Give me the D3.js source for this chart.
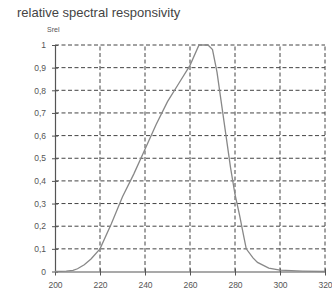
<!DOCTYPE html>
<html>
<head>
<meta charset="utf-8">
<script src="https://cdn.jsdelivr.net/npm/d3@7"></script>
<style>
	body { margin: 0; background: #fff; }
	svg { display: block; }
</style>
</head>
<body>
<script>
const wavelengths = [200, 205, 208, 210, 213, 216, 220, 225, 230, 235, 240, 245, 250, 255, 260, 264, 268, 270, 272, 274, 276, 278, 280, 282, 284, 285, 288, 290, 295, 300, 310, 320];
const srel = [0, 0.002, 0.005, 0.012, 0.03, 0.055, 0.1, 0.21, 0.33, 0.43, 0.54, 0.65, 0.75, 0.83, 0.91, 1.0, 1.0, 0.98, 0.88, 0.74, 0.6, 0.46, 0.34, 0.25, 0.15, 0.1, 0.06, 0.04, 0.015, 0.006, 0.002, 0];
const xTicks = [200, 220, 240, 260, 280, 300, 320];
const yTicks = [0, 0.1, 0.2, 0.3, 0.4, 0.5, 0.6, 0.7, 0.8, 0.9, 1];

const width = 332, height = 293;
const svg = d3.select('body').append('svg').attr('width', width).attr('height', height);

const x = d3.scaleLinear().domain([200, 320]).range([55, 325]);
const y = d3.scaleLinear().domain([0, 1]).range([271.5, 45]);
const fmt = d => String(+d.toFixed(1)).replace('.', ',');

svg.append('text')
	.attr('x', 17).attr('y', 17)
	.attr('font-family', 'Liberation Sans, Arial, sans-serif')
	.attr('font-size', 13).attr('fill', '#444')
	.text('relative spectral responsivity');

svg.append('text')
	.attr('x', 47).attr('y', 32)
	.attr('font-family', 'Liberation Sans, Arial, sans-serif')
	.attr('font-size', 7).attr('fill', '#555')
	.text('Srel');

// dashed grid
const grid = svg.append('g').attr('stroke', '#444').attr('stroke-width', 1).attr('stroke-dasharray', '4,2.5');
grid.selectAll('line.h').data(yTicks.filter(d => d > 0)).join('line')
	.attr('x1', x(200)).attr('x2', x(320))
	.attr('y1', d => y(d)).attr('y2', d => y(d));
grid.selectAll('line.v').data(xTicks.filter(d => d > 200)).join('line')
	.attr('x1', d => x(d)).attr('x2', d => x(d))
	.attr('y1', y(0)).attr('y2', y(1));

// axes
const xAxis = svg.append('g').attr('transform', `translate(0,${y(0)})`)
	.call(d3.axisBottom(x).tickValues(xTicks).tickSize(4).tickPadding(6).tickSizeOuter(0));
xAxis.selectAll('.tick line').attr('y1', -3);
const yAxis = svg.append('g').attr('transform', `translate(${x(200)},0)`)
	.call(d3.axisLeft(y).tickValues(yTicks).tickFormat(fmt).tickSize(3).tickPadding(6).tickSizeOuter(0));
yAxis.selectAll('.tick line').attr('x1', 3);

svg.selectAll('.domain').attr('stroke', '#555').attr('stroke-width', 1.2);
svg.selectAll('.tick line').attr('stroke', '#555');
svg.selectAll('.tick text')
	.attr('font-family', 'Liberation Sans, Arial, sans-serif')
	.attr('font-size', 8.5).attr('fill', '#555');

// curve
const line = d3.line()
	.x((d, i) => x(wavelengths[i]))
	.y(d => y(d));
svg.append('path')
	.datum(srel)
	.attr('d', line)
	.attr('fill', 'none')
	.attr('stroke', '#888')
	.attr('stroke-width', 1.3);
</script>
</body>
</html>
